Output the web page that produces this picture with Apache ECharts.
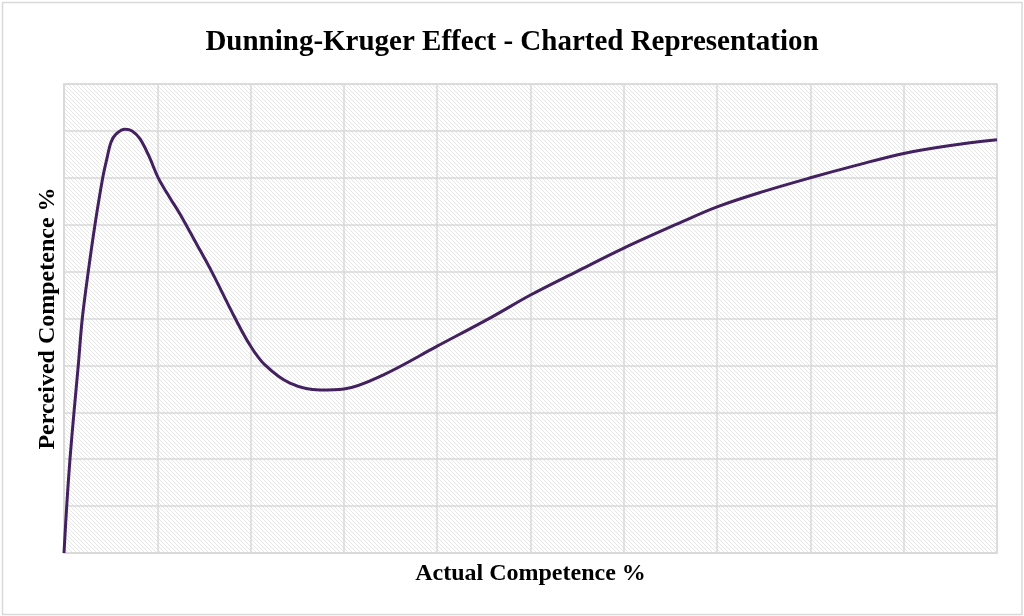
<!DOCTYPE html>
<html>
<head>
<meta charset="utf-8">
<script src="https://cdn.jsdelivr.net/npm/echarts@6/dist/echarts.min.js"></script>
<style>
html,body{margin:0;padding:0;background:#fff;}
#c{width:1024px;height:616px;}
</style>
</head>
<body>
<div id="c"></div>
<script>
// Data (Actual Competence %, Perceived Competence %)
var actualCompetence    = [0, 0.29, 0.64, 1.07, 1.53, 1.96, 2.6, 3.32, 4.15, 4.61, 5.04, 5.57, 6.54, 7.29, 8.15, 9.11, 10.1, 11.36, 12.43, 14.15, 15.83, 18.33, 19.94, 21.54, 24.22, 27.44, 30, 34.19, 40, 45.84, 50, 54.95, 60, 65.67, 70, 75, 80, 85, 90, 95, 100];
var perceivedCompetence = [0, 10, 20, 30, 40, 50, 60, 70, 80, 84.2, 87.6, 89.3, 90.34, 90.0, 88.3, 84.6, 80, 75.7, 72.3, 66.1, 60, 50.1, 44.3, 40.1, 36.2, 34.75, 34.97, 37.95, 44.1, 50.3, 55, 60, 65, 70.1, 73.8, 77.1, 80, 82.7, 85.2, 86.9, 88.1];

var titleText = 'Dunning-Kruger Effect - Charted Representation';
var xAxisName = 'Actual Competence %';
var yAxisName = 'Perceived Competence %';

var points = actualCompetence.map(function (x, i) { return [x, perceivedCompetence[i]]; });

// hatch pattern for plot background
var s = 4;
var cv = document.createElement('canvas');
cv.width = s; cv.height = s;
var cx = cv.getContext('2d');
cx.fillStyle = '#ffffff';
cx.fillRect(0, 0, s, s);
cx.strokeStyle = '#e6e6e6';
cx.lineWidth = 1;
cx.beginPath();
cx.moveTo(-1, -1); cx.lineTo(s + 1, s + 1);
cx.moveTo(s - 1, -1); cx.lineTo(s + 1, 1);
cx.moveTo(-1, s - 1); cx.lineTo(1, s + 1);
cx.stroke();

var chart = echarts.init(document.getElementById('c'), null, {renderer: 'canvas'});
chart.setOption({
  animation: false,
  backgroundColor: '#ffffff',
  title: {
    text: titleText,
    left: 'center',
    top: 23,
    textStyle: {fontFamily: 'Liberation Serif', fontWeight: 'bold', fontSize: 29, color: '#000'}
  },
  graphic: [{
    type: 'rect',
    shape: {x: 2.5, y: 2.5, width: 1019.5, height: 612},
    style: {fill: 'none', stroke: '#d9d9d9', lineWidth: 1.5},
    silent: true
  }],
  grid: {
    left: 64, right: 27, top: 84, bottom: 63,
    show: true,
    backgroundColor: {image: cv, repeat: 'repeat'},
    borderColor: '#d9d9d9',
    borderWidth: 1.5
  },
  xAxis: {
    type: 'value', min: 0, max: 100, interval: 10,
    name: xAxisName, nameLocation: 'middle', nameGap: 9,
    nameTextStyle: {fontFamily: 'Liberation Serif', fontWeight: 'bold', fontSize: 24, color: '#000'},
    axisLine: {show: true, lineStyle: {color: '#d9d9d9', width: 1.5}},
    axisTick: {show: false},
    axisLabel: {show: false},
    splitLine: {show: true, lineStyle: {color: '#d9d9d9', width: 1.5}}
  },
  yAxis: {
    type: 'value', min: 0, max: 100, interval: 10,
    name: yAxisName, nameLocation: 'middle', nameGap: 4,
    nameTextStyle: {fontFamily: 'Liberation Serif', fontWeight: 'bold', fontSize: 24, color: '#000'},
    axisLine: {show: true, lineStyle: {color: '#d9d9d9', width: 1.5}},
    axisTick: {show: false},
    axisLabel: {show: false},
    splitLine: {show: true, lineStyle: {color: '#d9d9d9', width: 1.5}}
  },
  series: [{
    type: 'line',
    data: points,
    smooth: 0.35,
    showSymbol: false,
    symbol: 'none',
    lineStyle: {color: '#43205f', width: 3}
  }]
});
</script>
</body>
</html>
